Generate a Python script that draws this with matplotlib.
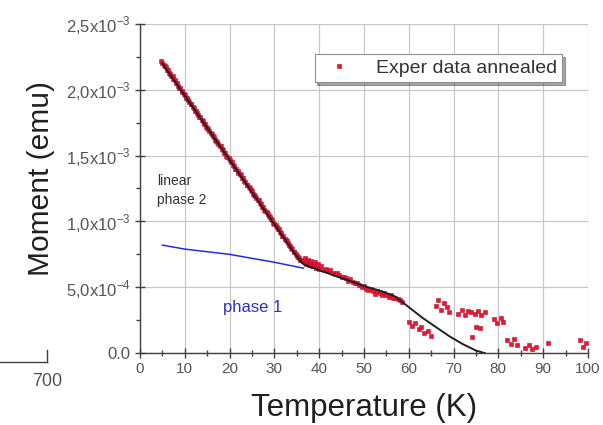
import numpy as np
import matplotlib
matplotlib.use("Agg")
import matplotlib.pyplot as plt
from matplotlib.ticker import MultipleLocator, FixedLocator, FixedFormatter

plt.rcParams['font.family'] = ['Liberation Sans', 'DejaVu Sans']
plt.rcParams['mathtext.fontset'] = 'custom'
plt.rcParams['mathtext.rm'] = 'Liberation Sans'

# Measured moment (in units of 1e-3 emu) versus temperature (K), annealed sample
temp_k = [
    4.8, 5.0, 5.3, 5.5, 5.8, 6.0, 6.3, 6.5, 6.8, 7.0,
    7.3, 7.5, 7.8, 8.0, 8.3, 8.5, 8.8, 9.0, 9.3, 9.5,
    9.8, 10.0, 10.3, 10.5, 10.8, 11.0, 11.3, 11.5, 11.8, 12.0,
    12.3, 12.5, 12.8, 13.0, 13.3, 13.5, 13.8, 14.0, 14.3, 14.5,
    14.8, 15.0, 15.3, 15.5, 15.8, 16.0, 16.3, 16.5, 16.8, 17.0,
    17.3, 17.5, 17.8, 18.0, 18.3, 18.5, 18.8, 19.0, 19.3, 19.5,
    19.8, 20.0, 20.3, 20.5, 20.8, 21.0, 21.3, 21.5, 21.8, 22.0,
    22.3, 22.5, 22.8, 23.0, 23.3, 23.5, 23.8, 24.0, 24.3, 24.5,
    24.8, 25.0, 25.3, 25.5, 25.8, 26.0, 26.3, 26.5, 26.8, 27.0,
    27.3, 27.5, 27.8, 28.0, 28.3, 28.5, 28.8, 29.0, 29.3, 29.5,
    29.8, 30.0, 30.3, 30.5, 30.8, 31.0, 31.3, 31.5, 31.8, 32.0,
    32.3, 32.5, 32.8, 33.0, 33.3, 33.5, 33.8, 34.0, 34.3, 34.5,
    34.8, 35.0, 35.3, 35.5, 35.8, 36.0, 36.3, 36.5, 36.8, 37.0,
    37.3, 37.5, 37.8, 38.0, 38.3, 38.5, 38.8, 39.0, 39.3, 39.5,
    39.8, 40.0, 40.5, 41.0, 41.5, 42.0, 42.5, 43.0, 43.5, 44.0,
    44.5, 45.0, 45.5, 46.0, 46.5, 47.0, 47.5, 48.0, 48.5, 49.0,
    49.5, 50.0, 50.5, 51.0, 51.5, 52.0, 52.5, 53.0, 53.5, 54.0,
    54.5, 55.0, 55.5, 56.0, 56.5, 57.0, 57.5, 58.0, 58.5,
    60.0, 60.8, 61.5, 62.2, 62.8, 63.5, 64.2, 65.0, 66.0, 66.5,
    67.2, 67.8, 68.5, 69.0, 71.0, 71.8, 72.5, 73.2, 74.0, 74.8,
    75.5, 76.2, 77.0, 74.2, 75.0, 76.0, 79.0, 79.8, 80.5, 81.0,
    82.0, 82.8, 83.5, 84.2, 86.0, 86.8, 87.5, 88.3, 91.0,
    98.2, 98.8, 99.5,
]
moment_me = [
    2.22, 2.20, 2.19, 2.18, 2.17, 2.15, 2.15, 2.13, 2.12, 2.10,
    2.10, 2.08, 2.07, 2.05, 2.05, 2.03, 2.01, 2.01, 1.99, 1.98,
    1.97, 1.96, 1.94, 1.94, 1.92, 1.91, 1.89, 1.89, 1.87, 1.86,
    1.84, 1.84, 1.82, 1.81, 1.79, 1.79, 1.77, 1.76, 1.74, 1.74,
    1.72, 1.71, 1.70, 1.69, 1.67, 1.66, 1.65, 1.64, 1.62, 1.61,
    1.60, 1.59, 1.57, 1.57, 1.55, 1.54, 1.52, 1.52, 1.50, 1.49,
    1.48, 1.47, 1.45, 1.45, 1.43, 1.42, 1.40, 1.40, 1.38, 1.37,
    1.36, 1.35, 1.33, 1.33, 1.31, 1.30, 1.28, 1.28, 1.26, 1.25,
    1.24, 1.23, 1.21, 1.20, 1.19, 1.18, 1.16, 1.16, 1.14, 1.13,
    1.11, 1.11, 1.09, 1.08, 1.07, 1.06, 1.04, 1.03, 1.02, 1.01,
    0.99, 0.98, 0.97, 0.96, 0.94, 0.94, 0.92, 0.91, 0.89, 0.89,
    0.87, 0.86, 0.85, 0.84, 0.82, 0.81, 0.80, 0.79, 0.77, 0.77,
    0.75, 0.74, 0.73, 0.72, 0.71, 0.71, 0.70, 0.70, 0.72, 0.68,
    0.70, 0.71, 0.67, 0.69, 0.70, 0.66, 0.68, 0.69, 0.65, 0.67,
    0.68, 0.64, 0.66, 0.63, 0.64, 0.62, 0.63, 0.61, 0.60, 0.61,
    0.59, 0.58, 0.58, 0.57, 0.55, 0.56, 0.54, 0.53, 0.53, 0.52,
    0.50, 0.51, 0.49, 0.48, 0.49, 0.47, 0.45, 0.47, 0.46, 0.44,
    0.46, 0.44, 0.43, 0.44, 0.42, 0.42, 0.41, 0.40, 0.39,
    0.24, 0.21, 0.23, 0.18, 0.20, 0.15, 0.17, 0.13, 0.36, 0.40,
    0.33, 0.38, 0.35, 0.31, 0.30, 0.33, 0.29, 0.32, 0.31, 0.30,
    0.32, 0.29, 0.31, 0.12, 0.20, 0.19, 0.26, 0.23, 0.27, 0.24,
    0.10, 0.07, 0.11, 0.06, 0.04, 0.06, 0.03, 0.05, 0.08,
    0.10, 0.05, 0.08,
]

# Linear phase 2 + phase 1 fit
fit_t = [5, 35, 36.5, 38, 40, 45, 50, 54, 57, 60, 63, 66, 69, 72, 75, 77]
fit_m = [2.20, 0.735, 0.675, 0.655, 0.63, 0.57, 0.51, 0.47, 0.43, 0.35, 0.27, 0.20, 0.13, 0.07, 0.02, 0.0]

# Phase 1 contribution
ph1_t = [5, 10, 20, 30, 36.5]
ph1_m = [0.82, 0.79, 0.75, 0.69, 0.645]

fig = plt.figure(figsize=(6.03, 4.25), dpi=100)
ax = fig.add_axes([0.232, 0.169, 0.743, 0.775])

t = np.array(temp_k)
m = np.array(moment_me) * 1e-3
ax.plot(t, m, linestyle='none', marker='s', markersize=3.4, markerfacecolor='#f0142e',
        markeredgecolor='#b01030', markeredgewidth=0.4,
        label='Exper data annealed', zorder=3)
ax.plot(np.array(ph1_t), np.array(ph1_m) * 1e-3, color='#2b2bd8', lw=1.1, zorder=4)
ax.plot(np.array(fit_t), np.array(fit_m) * 1e-3, color='#202020', lw=1.4, zorder=5)

ax.set_xlim(0, 100)
ax.set_ylim(0, 2.5e-3)

ax.xaxis.set_major_locator(MultipleLocator(10))
ax.xaxis.set_minor_locator(MultipleLocator(5))
yticks = [0, 0.5e-3, 1.0e-3, 1.5e-3, 2.0e-3, 2.5e-3]
ylabels = ['0.0', r'5,0x10$^{-4}$', r'1,0x10$^{-3}$', r'1,5x10$^{-3}$',
           r'2,0x10$^{-3}$', r'2,5x10$^{-3}$']
ax.yaxis.set_major_locator(FixedLocator(yticks))
ax.yaxis.set_major_formatter(FixedFormatter(ylabels))
ax.yaxis.set_minor_locator(MultipleLocator(0.25e-3))

ax.grid(True, which='major', color='#c8c8c8', lw=0.9)
ax.set_axisbelow(True)
for side in ('top', 'right'):
    ax.spines[side].set_visible(False)
for side in ('left', 'bottom'):
    ax.spines[side].set_color('#404040')
    ax.spines[side].set_linewidth(1.0)

ax.tick_params(axis='x', which='major', direction='inout', length=7, width=1,
               colors='#404040', labelsize=11, labelcolor='#555555', pad=3)
ax.tick_params(axis='x', which='minor', direction='inout', length=4, width=1, colors='#404040')
ax.tick_params(axis='y', which='major', direction='inout', length=7, width=1,
               colors='#404040', labelsize=12, labelcolor='#555555', pad=3)
ax.tick_params(axis='y', which='minor', direction='out', length=3, width=1, colors='#404040')

ax.set_xlabel('Temperature (K)', fontsize=22.5, color='#202020', labelpad=12)
ax.set_ylabel('Moment (emu)', fontsize=21.5, color='#202020')
ax.yaxis.set_label_coords(-0.19, 0.53)

ax.text(3.8, 1.235e-3, 'linear\nphase 2', fontsize=10, color='#333333',
        ha='left', va='center', linespacing=1.4)
ax.text(18.5, 0.35e-3, 'phase 1', fontsize=12, color='#3030c0', ha='left', va='center')

leg = ax.legend(loc='upper left', bbox_to_anchor=(0.39, 0.907), fontsize=14,
                frameon=True, fancybox=False, shadow=True, markerscale=0.8,
                handlelength=2.0, handletextpad=0.9, borderpad=0.25,
                borderaxespad=0.0)
leg.get_frame().set_edgecolor('#909090')
leg.get_frame().set_linewidth(0.8)
for txt in leg.get_texts():
    txt.set_color('#333333')

# Partial axis of a neighbouring panel at the lower-left edge
fig.add_artist(plt.Line2D([0, 47 / 603], [1 - 362 / 425, 1 - 362 / 425],
                          color='#404040', lw=1, transform=fig.transFigure))
fig.add_artist(plt.Line2D([47 / 603, 47 / 603], [1 - 362 / 425, 1 - 350 / 425],
                          color='#404040', lw=1, transform=fig.transFigure))
fig.text(47 / 603, 1 - 381 / 425, '700', fontsize=13, color='#555555',
         ha='center', va='center')

fig.savefig('out.png', dpi=100)
